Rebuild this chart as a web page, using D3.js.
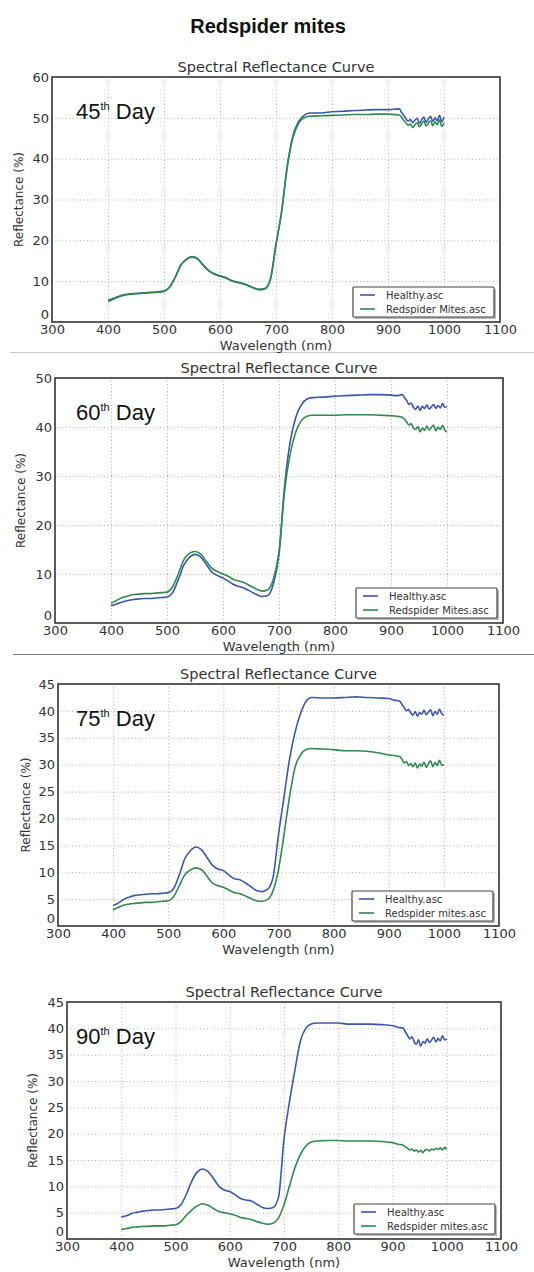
<!DOCTYPE html>
<html>
<head>
<meta charset="utf-8">
<script src="https://cdnjs.cloudflare.com/ajax/libs/d3/7.8.5/d3.min.js"></script>
<style>
  body { margin: 0; background: #fff; }
  svg { display: block; }
</style>
</head>
<body>
<svg id="chart" width="534" height="1272"></svg>
<script>
// wavelengths (nm) shared by every curve
const wavelength = [400,410,420,430,440,450,460,470,480,490,500,510,520,530,540,550,560,570,580,590,
  600,610,620,630,640,650,660,670,680,690,700,710,720,730,740,750,760,780,800,820,840,860,880,900,910,920,
  924,928,932,936,940,944,948,952,956,960,964,968,972,976,980,984,988,992,996,1000];

// 45th day
const healthy45 = [5.3,5.8,6.3,6.7,6.9,7.0,7.1,7.2,7.3,7.4,
  7.6,8.6,11.0,14.0,15.4,16.0,15.5,14.0,12.6,11.8,
  11.3,10.9,10.2,9.8,9.5,9.0,8.4,8.0,8.2,10.5,
  19,27,38,45.5,49,50.6,51.2,51.2,51.5,51.6,51.8,51.9,52.0,52.0,52.1,52.2,
  51.4,50.6,49.8,49.2,49.6,48.8,49.4,49.9,48.6,49.5,50.2,48.9,49.7,50.4,49.1,50.0,49.3,50.6,49.0,50.2];
const mites45 = [5.0,5.6,6.2,6.6,6.8,6.9,7.0,7.1,7.2,7.3,
  7.5,8.5,10.9,13.9,15.3,15.9,15.4,13.9,12.5,11.7,
  11.2,10.8,10.1,9.7,9.4,8.9,8.3,7.9,8.1,10.4,
  19,27,38,45,48.5,50.0,50.4,50.5,50.6,50.7,50.8,50.8,50.9,50.9,50.8,50.7,
  50.2,49.4,48.8,48.2,48.5,47.6,48.3,48.8,47.8,48.5,49.2,48.0,48.7,49.3,48.1,49.0,48.3,49.5,47.9,48.8];

// 60th day
const healthy60 = [3.5,3.9,4.3,4.6,4.8,4.9,5.0,5.0,5.1,5.2,
  5.3,6.2,8.8,11.8,13.4,14.0,13.5,12.0,10.4,9.7,
  9.2,8.5,7.8,7.4,7.0,6.4,5.8,5.4,5.6,8.0,
  14,28,37,42,44.5,45.7,46.0,46.1,46.3,46.4,46.5,46.6,46.6,46.5,46.4,46.6,
  46.0,45.4,44.6,44.9,44.0,43.6,44.3,43.4,44.2,43.8,44.5,43.7,44.1,44.6,43.8,44.4,43.9,44.8,44.0,44.2];
const mites60 = [4.0,4.6,5.2,5.5,5.8,5.9,6.0,6.0,6.1,6.2,
  6.3,7.4,10.0,12.9,14.2,14.6,14.1,12.6,11.2,10.5,
  10.0,9.5,8.8,8.5,8.1,7.5,6.9,6.5,6.8,9.0,
  14.5,27,34.5,39,41.3,42.2,42.4,42.4,42.4,42.5,42.5,42.5,42.4,42.3,42.2,42.0,
  41.6,41.0,40.4,40.7,39.8,39.5,40.1,39.0,39.8,39.3,40.2,39.4,39.9,40.4,39.2,40.0,39.5,40.3,39.4,39.0];

// 75th day
const healthy75 = [3.8,4.3,5.0,5.4,5.7,5.8,5.9,6.0,6.0,6.1,
  6.2,7.0,9.5,12.5,14.0,14.7,14.2,12.8,11.3,10.6,
  10.3,9.5,8.8,8.6,8.0,7.3,6.6,6.4,6.8,9.0,
  17,24,31,36,39.5,41.8,42.5,42.4,42.4,42.5,42.6,42.5,42.4,42.3,42.0,41.8,
  41.2,40.6,40.0,40.3,39.6,39.2,39.9,39.0,39.7,39.4,40.1,39.3,39.8,40.2,39.1,39.9,39.4,40.3,39.5,39.2];
const mites75 = [3.0,3.5,3.9,4.1,4.2,4.3,4.4,4.4,4.5,4.6,
  4.7,5.5,7.5,9.5,10.4,10.8,10.5,9.3,8.0,7.5,
  7.2,6.7,6.2,6.0,5.6,5.1,4.7,4.6,4.9,6.5,
  10.5,17,24,29.5,31.8,32.8,33.0,32.9,32.8,32.6,32.6,32.5,32.2,31.8,31.7,31.5,
  31.0,30.3,30.6,29.8,30.2,29.6,30.3,29.4,30.1,29.7,30.5,29.5,30.2,30.7,29.6,30.4,29.8,30.8,29.9,30.0];

// 90th day
const healthy90 = [4.2,4.4,4.9,5.1,5.3,5.4,5.5,5.5,5.6,5.7,
  5.8,6.5,8.5,11.0,12.7,13.3,12.8,11.5,10.0,9.3,
  9.0,8.4,7.7,7.4,7.2,6.6,6.0,5.8,6.0,8.0,
  19,26,32,37.5,40,40.8,41.0,41.0,41.0,40.8,40.8,40.8,40.7,40.5,40.2,40.0,
  39.3,38.6,38.0,38.4,37.4,37.0,37.8,36.6,37.5,37.2,38.0,37.3,37.8,38.3,37.4,38.1,37.6,38.6,37.8,38.0];
const mites90 = [1.8,2.0,2.2,2.3,2.4,2.4,2.5,2.5,2.5,2.6,
  2.7,3.3,4.5,5.5,6.3,6.7,6.4,5.8,5.2,5.0,
  4.8,4.5,4.1,3.9,3.7,3.3,3.0,2.8,3.0,4.0,
  6.5,10,13.5,16,17.6,18.4,18.6,18.7,18.7,18.6,18.6,18.6,18.5,18.3,18.0,17.8,
  17.5,17.2,16.9,17.1,16.7,16.9,16.5,16.8,16.4,16.9,17.0,16.7,17.1,16.9,17.2,17.0,17.3,16.9,17.4,17.0];

const dayLabels = ["45", "60", "75", "90"];
const xTicks = [300,400,500,600,700,800,900,1000,1100];
const yMaxes = [60, 50, 45, 45];
const yTickSteps = [10, 10, 5, 5];
const healthyNames = ["Healthy.asc", "Healthy.asc", "Healthy.asc", "Healthy.asc"];
const mitesNames = ["Redspider Mites.asc", "Redspider Mites.asc", "Redspider mites.asc", "Redspider mites.asc"];

const healthySeries = [healthy45, healthy60, healthy75, healthy90];
const mitesSeries = [mites45, mites60, mites75, mites90];

// panel boxes (pixels)
const boxes = [
  {left: 52, right: 500, top: 77, bottom: 322, ylab: 19},
  {left: 55, right: 503, top: 378, bottom: 623, ylab: 21},
  {left: 58, right: 499, top: 684, bottom: 926, ylab: 26},
  {left: 67, right: 501, top: 1002, bottom: 1239, ylab: 33}
];

const blue = "#3c56ad";
const green = "#2f8a4c";
const axisFont = "'DejaVu Sans', sans-serif";

const svg = d3.select("#chart");

svg.append("text")
  .attr("x", 268).attr("y", 33)
  .attr("text-anchor", "middle")
  .attr("font-family", "'Liberation Sans', Arial, sans-serif")
  .attr("font-weight", "bold")
  .attr("font-size", "20px")
  .attr("fill", "#111")
  .text("Redspider mites");

// separators between the first panels
svg.append("line").attr("x1", 10).attr("x2", 534).attr("y1", 352.5).attr("y2", 352.5)
  .attr("stroke", "#c8c8c8").attr("stroke-width", 1);
svg.append("line").attr("x1", 13).attr("x2", 534).attr("y1", 654.5).attr("y2", 654.5)
  .attr("stroke", "#777").attr("stroke-width", 1.2);

boxes.forEach((b, i) => {
  const x = d3.scaleLinear().domain([300, 1100]).range([b.left, b.right]);
  const y = d3.scaleLinear().domain([0, yMaxes[i]]).range([b.bottom, b.top]);
  const yTicks = d3.range(0, yMaxes[i] + 0.1, yTickSteps[i]);
  const g = svg.append("g");

  // grid
  g.append("g")
    .attr("transform", `translate(0,${b.bottom})`)
    .call(d3.axisBottom(x).tickValues(xTicks.slice(1, -1)).tickSize(-(b.bottom - b.top)).tickFormat(""))
    .call(s => s.select(".domain").remove())
    .call(s => s.selectAll("line").attr("stroke", "#b0b0b0").attr("stroke-dasharray", "1,2.5"));
  g.append("g")
    .attr("transform", `translate(${b.left},0)`)
    .call(d3.axisLeft(y).tickValues(yTicks.slice(1, -1)).tickSize(-(b.right - b.left)).tickFormat(""))
    .call(s => s.select(".domain").remove())
    .call(s => s.selectAll("line").attr("stroke", "#b0b0b0").attr("stroke-dasharray", "1,2.5"));

  // tick labels
  const xa = g.append("g")
    .attr("transform", `translate(0,${b.bottom})`)
    .call(d3.axisBottom(x).tickValues(xTicks).tickSize(0).tickPadding(3).tickFormat(d3.format("d")));
  xa.select(".domain").remove();
  xa.selectAll("text").attr("font-family", axisFont).attr("font-size", "13px").attr("fill", "#333");

  const ya = g.append("g")
    .attr("transform", `translate(${b.left},0)`)
    .call(d3.axisLeft(y).tickValues(yTicks).tickSize(0).tickPadding(3).tickFormat(d3.format("d")));
  ya.select(".domain").remove();
  ya.selectAll("text").attr("font-family", axisFont).attr("font-size", "13px").attr("fill", "#333");
  // the bottom "0" sits just above the first wavelength label, as in the source
  ya.selectAll(".tick").filter(d => d === 0).select("text").attr("dy", "-0.25em");

  // curves
  const line = d3.line()
    .x((d, k) => x(wavelength[k]))
    .y(d => y(d))
    .curve(d3.curveMonotoneX);
  g.append("path").datum(healthySeries[i])
    .attr("d", line).attr("fill", "none").attr("stroke", blue).attr("stroke-width", 1.6);
  g.append("path").datum(mitesSeries[i])
    .attr("d", line).attr("fill", "none").attr("stroke", green).attr("stroke-width", 1.6);

  // frame
  g.append("rect")
    .attr("x", b.left).attr("y", b.top)
    .attr("width", b.right - b.left).attr("height", b.bottom - b.top)
    .attr("fill", "none").attr("stroke", "#333").attr("stroke-width", 1.6);

  // titles
  g.append("text")
    .attr("x", (b.left + b.right) / 2).attr("y", b.top - 5)
    .attr("text-anchor", "middle")
    .attr("font-family", axisFont).attr("font-size", "14.5px").attr("fill", "#333")
    .text("Spectral Reflectance Curve");
  g.append("text")
    .attr("x", (b.left + b.right) / 2).attr("y", Math.min(b.bottom + 28, 1267))
    .attr("text-anchor", "middle")
    .attr("font-family", axisFont).attr("font-size", "13px").attr("fill", "#333")
    .text("Wavelength (nm)");
  g.append("text")
    .attr("transform", `translate(${b.ylab},${(b.top + b.bottom) / 2}) rotate(-90)`)
    .attr("text-anchor", "middle")
    .attr("dy", "0.35em")
    .attr("font-family", axisFont).attr("font-size", "12px").attr("fill", "#333")
    .text("Reflectance (%)");

  // day label
  const day = g.append("text")
    .attr("x", 76).attr("y", b.top + 42)
    .attr("font-family", "'Liberation Sans', Arial, sans-serif")
    .attr("font-size", "22px").attr("fill", "#111");
  day.append("tspan").text(dayLabels[i]);
  day.append("tspan").attr("font-size", "11px").attr("dy", "-9").text("th");
  day.append("tspan").attr("dy", "9").text(" Day");

  // legend
  const lw = 141, lh = 30;
  const lx = b.right - 6 - lw, ly = b.bottom - 5 - lh;
  g.append("rect").attr("x", lx + 2).attr("y", ly + 2).attr("width", lw).attr("height", lh)
    .attr("fill", "#888").attr("opacity", 0.6);
  g.append("rect").attr("x", lx).attr("y", ly).attr("width", lw).attr("height", lh)
    .attr("fill", "#fff").attr("stroke", "#444").attr("stroke-width", 1.2).attr("rx", 1);
  [[blue, healthyNames[i]], [green, mitesNames[i]]].forEach(([c, name], r) => {
    const yy = ly + 8 + r * 14;
    g.append("line").attr("x1", lx + 7).attr("x2", lx + 22).attr("y1", yy).attr("y2", yy)
      .attr("stroke", c).attr("stroke-width", 1.6);
    g.append("text").attr("x", lx + 33).attr("y", yy).attr("dy", "0.35em")
      .attr("font-family", axisFont).attr("font-size", "10px").attr("fill", "#333")
      .text(name);
  });
});
</script>
</body>
</html>
